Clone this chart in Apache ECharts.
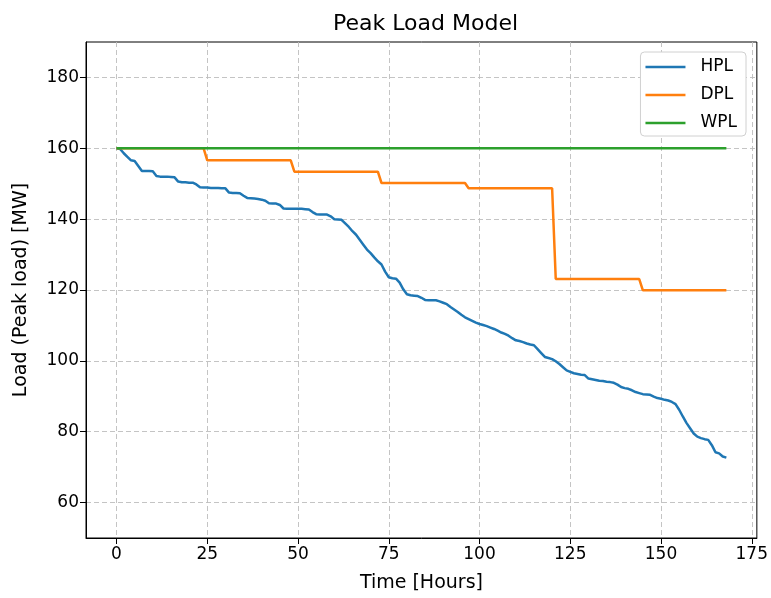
<!DOCTYPE html>
<html>
<head>
<meta charset="utf-8">
<script src="https://cdn.jsdelivr.net/npm/echarts@6/dist/echarts.min.js"></script>
<style>html,body{margin:0;padding:0;background:#fff;}#c{width:771px;height:598px;}</style>
</head>
<body>
<div id="c"></div>
<script>
const titleText = 'Peak Load Model';
const xName = 'Time [Hours]';
const yName = 'Load (Peak load) [MW]';
const seriesNames = ['HPL', 'DPL', 'WPL'];
const xTicks = [0, 25, 50, 75, 100, 125, 150, 175];
const yTicks = [60, 80, 100, 120, 140, 160, 180];

// hourly values, hour 0 .. 168
const hpl = [
160,159.8,158.6,157.6,156.6,156.4,155,153.6,153.6,153.6,
153.5,152.2,152,152,152,151.9,151.8,150.6,150.4,150.4,
150.3,150.3,149.8,149,148.9,148.9,148.8,148.8,148.8,148.7,
148.7,147.5,147.4,147.4,147.3,146.6,146,145.9,145.8,145.7,
145.5,145.2,144.5,144.4,144.4,144,143,142.9,142.9,142.9,
142.9,142.9,142.8,142.7,142,141.4,141.3,141.3,141.3,140.8,
140,139.9,139.8,138.8,137.8,136.6,135.6,134.2,132.8,131.4,
130.4,129.2,128.1,127.2,125.2,123.6,123.3,123.2,122.1,120.2,
118.8,118.5,118.4,118.3,117.8,117.2,117.1,117.1,117.1,116.8,
116.4,116,115.2,114.5,113.8,113,112.3,111.8,111.3,110.8,
110.4,110.1,109.8,109.4,109,108.5,108,107.6,107.1,106.4,
105.8,105.6,105.3,104.9,104.6,104.4,103.3,102.2,101.1,100.8,
100.5,99.9,99.1,98.2,97.3,96.9,96.5,96.3,96.1,96,
95,94.8,94.6,94.4,94.3,94.1,94,93.8,93.3,92.6,
92.3,92.1,91.7,91.2,90.9,90.6,90.5,90.4,89.9,89.5,
89.3,89,88.8,88.4,87.8,86.2,84.3,82.5,81,79.5,
78.6,78.2,77.9,77.7,76.2,74.2,73.9,73,72.7
];
const dpl = [
160,160,160,160,160,160,160,160,160,160,
160,160,160,160,160,160,160,160,160,160,
160,160,160,160,160,156.6,156.6,156.6,156.6,156.6,
156.6,156.6,156.6,156.6,156.6,156.6,156.6,156.6,156.6,156.6,
156.6,156.6,156.6,156.6,156.6,156.6,156.6,156.6,156.6,153.4,
153.4,153.4,153.4,153.4,153.4,153.4,153.4,153.4,153.4,153.4,
153.4,153.4,153.4,153.4,153.4,153.4,153.4,153.4,153.4,153.4,
153.4,153.4,153.4,150.2,150.2,150.2,150.2,150.2,150.2,150.2,
150.2,150.2,150.2,150.2,150.2,150.2,150.2,150.2,150.2,150.2,
150.2,150.2,150.2,150.2,150.2,150.2,150.2,148.7,148.7,148.7,
148.7,148.7,148.7,148.7,148.7,148.7,148.7,148.7,148.7,148.7,
148.7,148.7,148.7,148.7,148.7,148.7,148.7,148.7,148.7,148.7,
148.7,123.1,123.1,123.1,123.1,123.1,123.1,123.1,123.1,123.1,
123.1,123.1,123.1,123.1,123.1,123.1,123.1,123.1,123.1,123.1,
123.1,123.1,123.1,123.1,123.1,119.9,119.9,119.9,119.9,119.9,
119.9,119.9,119.9,119.9,119.9,119.9,119.9,119.9,119.9,119.9,
119.9,119.9,119.9,119.9,119.9,119.9,119.9,119.9,119.9
];
const wpl = [
160,160,160,160,160,160,160,160,160,160,
160,160,160,160,160,160,160,160,160,160,
160,160,160,160,160,160,160,160,160,160,
160,160,160,160,160,160,160,160,160,160,
160,160,160,160,160,160,160,160,160,160,
160,160,160,160,160,160,160,160,160,160,
160,160,160,160,160,160,160,160,160,160,
160,160,160,160,160,160,160,160,160,160,
160,160,160,160,160,160,160,160,160,160,
160,160,160,160,160,160,160,160,160,160,
160,160,160,160,160,160,160,160,160,160,
160,160,160,160,160,160,160,160,160,160,
160,160,160,160,160,160,160,160,160,160,
160,160,160,160,160,160,160,160,160,160,
160,160,160,160,160,160,160,160,160,160,
160,160,160,160,160,160,160,160,160,160,
160,160,160,160,160,160,160,160,160
];
const colors = ['#1f77b4', '#ff7f0e', '#2ca02c'];

const FONT = 'DejaVu Sans';
const pairs = arr => arr.map((v, i) => [i, v]);
const gridLine = { show: true, lineStyle: { color: '#bdbdbd', type: [5, 3], width: 0.9 } };

const chart = echarts.init(document.getElementById('c'), null, { renderer: 'canvas' });
chart.setOption({
  animation: false,
  backgroundColor: '#fff',
  textStyle: { fontFamily: FONT },
  title: {
    text: titleText, left: 328, top: 8,
    textStyle: { fontFamily: FONT, fontSize: 22, fontWeight: 'normal', color: '#000' }
  },
  legend: {
    orient: 'vertical', right: 25, top: 52,
    padding: [5, 9, 3, 5], itemGap: 8, itemWidth: 40, itemHeight: 2.5, icon: 'rect',
    borderColor: '#d0d0d0', borderWidth: 1, borderRadius: 4, backgroundColor: '#fff',
    textStyle: { fontFamily: FONT, fontSize: 17, lineHeight: 20, color: '#000', padding: [0, 0, 0, 10] },
    data: seriesNames
  },
  grid: { left: 86, right: 14, top: 42, bottom: 59, show: true, borderColor: '#000', borderWidth: 1 },
  xAxis: {
    type: 'value', min: -8.4, max: 176.4,
    name: xName, nameLocation: 'middle', nameGap: 36,
    nameTextStyle: { fontFamily: FONT, fontSize: 19, color: '#000' },
    axisLine: { show: true, onZero: false, lineStyle: { color: '#000' } },
    axisTick: { show: true, length: 6, customValues: xTicks, lineStyle: { color: '#000' } },
    axisLabel: { customValues: xTicks, margin: 8, fontFamily: FONT, fontSize: 17, color: '#000' },
    splitLine: gridLine
  },
  yAxis: {
    type: 'value', min: 50, max: 190,
    name: yName, nameLocation: 'middle', nameGap: 55, nameRotate: 90,
    nameTextStyle: { fontFamily: FONT, fontSize: 19, color: '#000' },
    axisLine: { show: true, onZero: false, lineStyle: { color: '#000' } },
    axisTick: { show: true, length: 6, customValues: yTicks, lineStyle: { color: '#000' } },
    axisLabel: { customValues: yTicks, margin: 7, fontFamily: FONT, fontSize: 17, color: '#000' },
    splitLine: gridLine
  },
  series: [hpl, dpl, wpl].map((arr, k) => ({
    name: seriesNames[k], type: 'line', data: pairs(arr),
    symbol: 'none', showSymbol: false,
    lineStyle: { color: colors[k], width: 2.5 }, itemStyle: { color: colors[k] },
    z: 2 + k
  }))
});
</script>
</body>
</html>
